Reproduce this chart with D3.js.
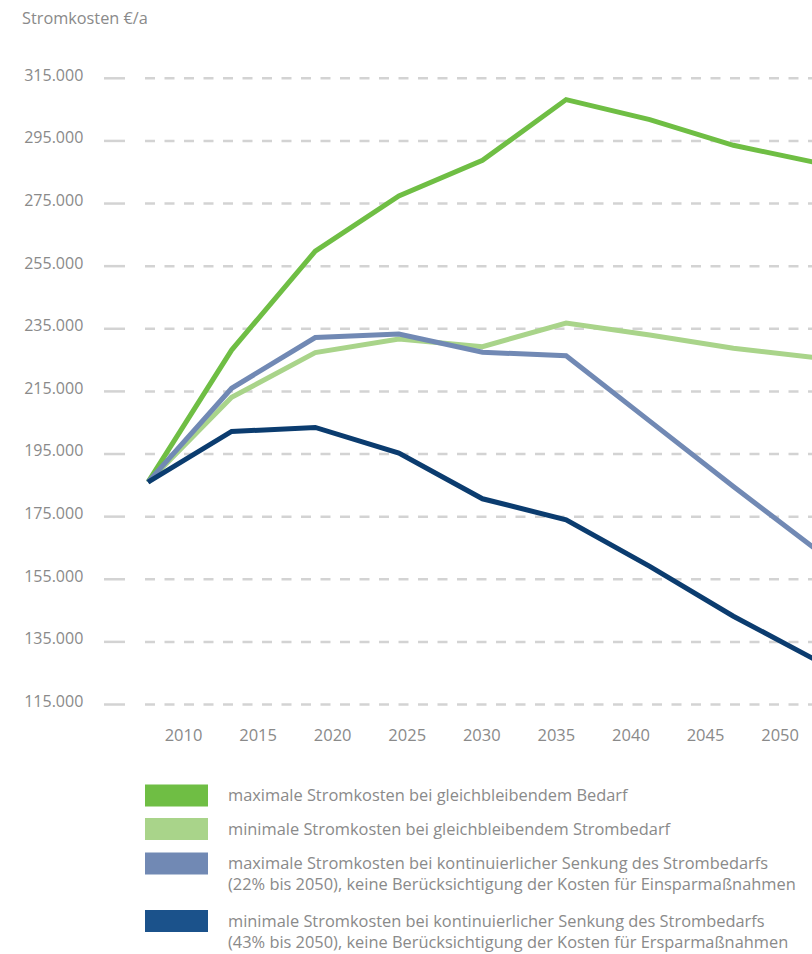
<!DOCTYPE html>
<html lang="de">
<head>
<meta charset="utf-8">
<script src="https://cdn.jsdelivr.net/npm/d3@7"></script>
<style>
  html, body { margin: 0; padding: 0; background: #fff; }
  svg { display: block; }
  text { font-family: "Open Sans", "Noto Sans", sans-serif; fill: #8a8a8a; }
</style>
</head>
<body>
<svg id="chart" width="812" height="954"></svg>
<script>
// Stromkosten pro Jahr (Euro), neun gleichmäßig verteilte Stützstellen
const steps = [0, 1, 2, 3, 4, 5, 6, 7, 8];
const maxGleich   = [186000, 228200, 259800, 277400, 288800, 308200, 301800, 293600, 288000];
const minGleich   = [186000, 213100, 227400, 231700, 229300, 236800, 233000, 228800, 225700];
const maxSenkung  = [186000, 216000, 232200, 233300, 227500, 226400, 205500, 184600, 164300];
const minSenkung  = [186000, 202200, 203500, 195300, 180700, 174000, 159100, 143200, 129000];

const yTicks = [115000, 135000, 155000, 175000, 195000, 215000, 235000, 255000, 275000, 295000, 315000];
const yearTicks = [2010, 2015, 2020, 2025, 2030, 2035, 2040, 2045, 2050];

const seriesNames = [
  ["maximale Stromkosten bei gleichbleibendem Bedarf"],
  ["minimale Stromkosten bei gleichbleibendem Strombedarf"],
  ["maximale Stromkosten bei kontinuierlicher Senkung des Strombedarfs",
   "(22% bis 2050), keine Berücksichtigung der Kosten für Einsparmaßnahmen"],
  ["minimale Stromkosten bei kontinuierlicher Senkung des Strombedarfs",
   "(43% bis 2050), keine Berücksichtigung der Kosten für Ersparmaßnahmen"]
];
const lineColors   = ["#6fbe44", "#a9d48a", "#7189b4", "#0b3c6f"];
const legendColors = ["#6fbe44", "#a9d48a", "#7189b4", "#1b528b"];
const seriesValues = [maxGleich, minGleich, maxSenkung, minSenkung];

const svg = d3.select("#chart");
const de = d3.formatLocale({ decimal: ",", thousands: ".", grouping: [3], currency: ["", " €"] });
const fmt = de.format(",");

const x = d3.scalePoint().domain(steps).range([148, 817]);
const xYear = d3.scaleLinear().domain([2010, 2050]).range([183, 779.6]);
const y = d3.scaleLinear().domain([115000, 315000]).range([704.5, 78.3]);

// Titel der Werteachse
svg.append("text")
  .attr("x", 22).attr("y", 18.3).attr("dy", "0.35em")
  .style("font-size", "16.3px")
  .text("Stromkosten €/a");

// Gitterlinien: kurzes Stück an der Beschriftung, danach gestrichelt
const grid = svg.append("g");
grid.selectAll("line.tick-seg").data(yTicks).join("line")
  .attr("class", "tick-seg")
  .attr("x1", 104).attr("x2", 125)
  .attr("y1", d => y(d)).attr("y2", d => y(d))
  .attr("stroke", "#d3d3d3").attr("stroke-width", 2.5);
grid.selectAll("line.grid").data(yTicks).join("line")
  .attr("class", "grid")
  .attr("x1", 145).attr("x2", 812)
  .attr("y1", d => y(d)).attr("y2", d => y(d))
  .attr("stroke", "#d3d3d3").attr("stroke-width", 2.5)
  .attr("stroke-dasharray", "10,9.5");

// Werteachse
const yAxis = svg.append("g")
  .attr("transform", "translate(104,0)")
  .call(d3.axisLeft(y).tickValues(yTicks).tickFormat(fmt).tickSize(0).tickPadding(20.7));
yAxis.select(".domain").remove();
yAxis.selectAll("text")
  .attr("dy", "0.12em")
  .style("font-size", "16px")
  .style("font-family", "\"Open Sans\", sans-serif")
  .attr("fill", "#8a8a8a");

// Jahresachse
const xAxis = svg.append("g")
  .attr("transform", "translate(0,735.3)")
  .call(d3.axisBottom(xYear).tickValues(yearTicks).tickFormat(d3.format("d")).tickSize(0).tickPadding(0));
xAxis.select(".domain").remove();
xAxis.selectAll("text")
  .attr("y", 0).attr("dy", "0.36em")
  .style("font-size", "16.5px")
  .style("font-family", "\"Open Sans\", sans-serif")
  .attr("fill", "#8a8a8a");

// Kurven
const line = d3.line().x((d, i) => x(steps[i])).y(d => y(d));
svg.append("g").selectAll("path").data(seriesValues).join("path")
  .attr("d", line)
  .attr("fill", "none")
  .attr("stroke", (d, i) => lineColors[i])
  .attr("stroke-width", 5)
  .attr("stroke-linejoin", "miter");

// Legende
const legendRows = [784.5, 818, 852.5, 910];
const legend = svg.append("g");
seriesNames.forEach((lines, i) => {
  const g = legend.append("g").attr("transform", `translate(145,${legendRows[i]})`);
  g.append("rect").attr("width", 63).attr("height", 22).attr("fill", legendColors[i]);
  lines.forEach((t, j) => {
    g.append("text")
      .attr("x", 83).attr("y", 11 + j * 21).attr("dy", "0.35em")
      .style("font-size", "16.4px")
      .text(t);
  });
});
</script>
</body>
</html>
